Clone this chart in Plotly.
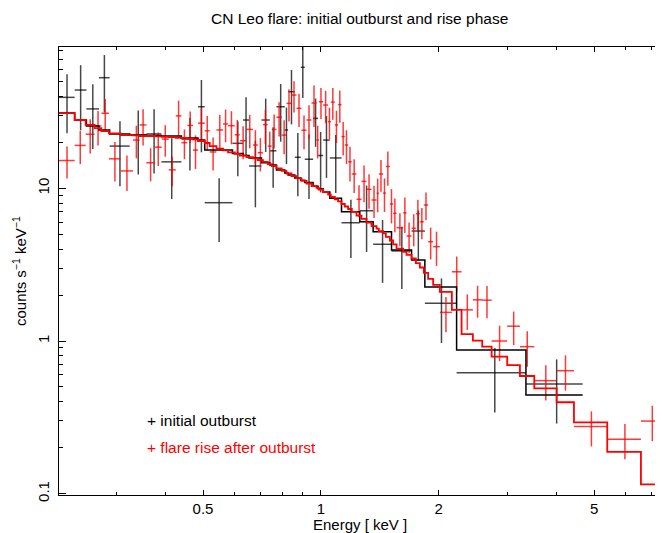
import numpy as np
import plotly.graph_objects as go

# ---------------- data ----------------
# initial outburst (black): bin edges [keV], rate, 1-sigma error, model
black_edges = [0.2142, 0.2349, 0.2517, 0.2710, 0.2886, 0.3247, 0.3583, 0.3914, 0.4403,
               0.4855, 0.5050, 0.5945, 0.6327, 0.6555, 0.7054, 0.7406, 0.7703, 0.8091,
               0.8250, 0.8581, 0.8889, 0.9101, 0.9557, 0.9842, 1.0137, 1.0544, 1.1296,
               1.2580, 1.3607, 1.5163, 1.7061, 1.845, 2.224, 3.345, 4.67]
black_rate = [39.4, 44.0, 33.1, 53.0, 18.9, 22.3, 22.7, 14.9, 21.0, 34.2, 8.05, 19.7,
              28.0, 14.0, 28.0, 17.6, 34.2, 24.1, 42.9, 15.96, 62.0, 15.5, 28.7, 16.4,
              20.7, 15.8, 5.95, 7.13, 4.30, 3.89, 5.25, 1.77, 0.620, 0.523]
black_err = [16.5, 20.0, 15.0, 21.6, 8.6, 10.0, 10.2, 6.4, 7.9, 17.0, 3.6, 7.7, 11.5,
             6.5, 10.7, 7.5, 14.0, 9.7, 16.7, 7.1, 23.0, 7.0, 10.0, 7.0, 9.0, 6.5,
             2.45, 3.3, 1.9, 1.7, 1.9, 0.8, 0.28, 0.235]
black_model = [31.1, 28.0, 25.6, 24.1, 22.7, 22.3, 22.2, 22.0, 21.35, 20.7, 17.8, 16.9,
               16.4, 15.8, 14.7, 14.2, 13.2, 12.6, 12.2, 11.7, 11.3, 10.9, 10.3, 9.95,
               9.45, 8.6, 7.03, 6.04, 5.20, 3.94, 3.39, 2.26, 0.873, 0.443]

# flare rise after outburst (red)
red_edges = [0.2142, 0.2349, 0.2506, 0.2642, 0.2749, 0.2874, 0.3079, 0.3311, 0.3444, 0.3583,
             0.3762, 0.3921, 0.4086, 0.4258, 0.4403, 0.4560, 0.4713, 0.4855, 0.5050, 0.5201,
             0.5410, 0.5626, 0.5794, 0.6027, 0.6207, 0.6455, 0.6711, 0.6899, 0.7117, 0.7318,
             0.7493, 0.7703, 0.7946, 0.8170, 0.8415, 0.8667, 0.8926, 0.9193, 0.9467, 0.9750,
             0.9883, 1.0137, 1.0440, 1.0606, 1.0859, 1.1071, 1.1296, 1.1519, 1.1745, 1.2003,
             1.2339, 1.2708, 1.3088, 1.3479, 1.3882, 1.4069, 1.4431, 1.4663, 1.5014, 1.5308,
             1.5618, 1.6237, 1.6566, 1.7061, 1.7498, 1.7914, 1.8340, 1.8810, 1.9372, 2.0151,
             2.1627, 2.2898, 2.4475, 2.5856, 2.7331, 2.9956, 3.2285, 3.5130, 4.0068, 4.4369,
             5.3977, 6.5812, 7.4937]
red_rate = [15.2, 19.1, 22.6, 25.6, 31.0, 15.6, 13.0, 20.7, 26.0, 14.7,
            18.6, 21.0, 13.2, 29.8, 19.9, 25.8, 17.8, 26.7, 23.8, 17.3,
            24.1, 26.4, 25.7, 22.4, 20.5, 24.3, 19.2, 17.1, 26.1, 18.9,
            24.3, 29.2, 22.3, 36.0, 40.8, 33.4, 24.0, 28.0, 36.2, 20.7,
            36.9, 35.1, 27.3, 36.7, 26.0, 35.3, 21.8, 19.2, 14.9, 12.4,
            8.47, 11.1, 9.85, 8.38, 9.27, 12.4, 9.30, 13.9, 7.89, 6.86,
            5.52, 6.90, 4.87, 5.47, 6.82, 6.04, 7.77, 4.47, 4.15, 1.54,
            2.84, 1.60, 1.86, 1.85, 1.00, 1.25, 0.918, 0.550, 0.639, 0.275,
            0.227, 0.299]
red_err = [3.6, 4.7, 5.7, 6.5, 7.5, 4.5, 3.4, 5.0, 6.9, 3.6,
           4.6, 4.9, 2.9, 7.7, 4.4, 6.0, 4.4, 6.6, 5.9, 4.2,
           6.1, 6.4, 6.3, 5.6, 5.0, 6.0, 4.8, 4.2, 6.6, 4.6,
           6.1, 7.4, 5.6, 8.6, 9.4, 8.2, 6.0, 7.0, 11.0, 5.0,
           8.5, 8.4, 6.4, 8.6, 6.2, 8.4, 5.4, 4.8, 3.8, 3.1,
           2.0, 3.0, 2.5, 2.0, 2.3, 2.9, 2.3, 3.5, 2.0, 1.7,
           1.35, 1.8, 1.1, 1.3, 1.6, 1.4, 1.6, 1.05, 1.05, 0.40,
           0.74, 0.42, 0.44, 0.44, 0.26, 0.31, 0.24, 0.143, 0.166, 0.071,
           0.059, 0.078]
red_model = [31.1, 28.0, 26.0, 24.8, 23.7, 22.9, 22.3, 22.2, 22.0, 22.0,
             21.85, 21.7, 21.6, 21.4, 21.35, 21.2, 20.9, 20.4, 19.8, 18.9,
             18.2, 17.7, 17.2, 16.8, 16.4, 16.0, 15.7, 15.3, 14.9, 14.4,
             14.0, 13.5, 13.0, 12.5, 12.0, 11.6, 11.2, 10.75, 10.35, 10.05,
             9.82, 9.46, 9.11, 8.77, 8.45, 8.20, 7.89, 7.60, 7.32, 7.00,
             6.63, 6.30, 5.97, 5.66, 5.45, 5.25, 5.06, 4.80, 4.55, 4.29,
             4.03, 3.83, 3.66, 3.47, 3.24, 3.03, 2.79, 2.55, 2.33, 2.10,
             1.60, 1.11, 1.005, 0.918, 0.789, 0.696, 0.590, 0.490, 0.397, 0.2935,
             0.188, 0.115]

x_tick_vals = [0.5, 1, 2, 5]
x_tick_text = ["0.5", "1", "2", "5"]
x_minor_vals = [0.3, 0.4, 0.6, 0.7, 0.8, 0.9, 3, 4, 6, 7]
y_tick_vals = [0.1, 1, 10]
y_tick_text = ["0.1", "1", "10"]
y_minor_vals = [0.2, 0.3, 0.4, 0.5, 0.6, 0.7, 0.8, 0.9,
                2, 3, 4, 5, 6, 7, 8, 9, 20, 30, 40, 50, 60, 70, 80]

title_text = "CN Leo flare: initial outburst and rise phase"
x_title = "Energy [ keV ]"
y_title = "counts s<sup>−1</sup> keV<sup>−1</sup>"
legend_black = "+ initial outburst"
legend_red = "+ flare rise after outburst"

FONT = "Liberation Sans, Arial, sans-serif"
FS = 15


def cross_trace(edges, rate, err, color):
    e = np.array(edges)
    lo, hi = e[:-1], e[1:]
    mid = (lo + hi) / 2
    return go.Scatter(
        x=mid, y=rate, mode="markers",
        marker=dict(size=1, color="rgba(0,0,0,0)"),
        error_x=dict(type="data", symmetric=False, array=hi - mid,
                     arrayminus=mid - lo, width=0, thickness=1.5, color=color),
        error_y=dict(type="data", array=err, width=0, thickness=1.5, color=color),
        showlegend=False, hoverinfo="skip")


def step_trace(edges, model, color, width):
    return go.Scatter(x=list(edges), y=list(model) + [model[-1]], mode="lines",
                      line=dict(shape="hv", color=color, width=width),
                      showlegend=False, hoverinfo="skip")


fig = go.Figure()
fig.add_trace(cross_trace(black_edges, black_rate, black_err, "rgba(0,0,0,0.72)"))
fig.add_trace(cross_trace(red_edges, red_rate, red_err, "rgba(255,0,0,0.78)"))
fig.add_trace(step_trace(black_edges, black_model, "black", 1.5))
fig.add_trace(step_trace(red_edges, red_model, "#ff0000", 1.8))

# page has an 8px body margin, so the figure is 8px smaller and shifted
W, H = 655, 525
L, R, T, B = 51, 1, 39, 38
# reference plot-area box (window pixels) used to place the texts
RL, RR, RT, RB = 59, 662, 47, 495
pw, ph = RR - RL, RB - RT


def px(xp):
    return (xp - RL) / pw


def py(yp):
    return (RB - yp) / ph


axis_common = dict(type="log", showline=True, linecolor="black", linewidth=1,
                   mirror="ticks", ticks="inside", tickcolor="black", tickwidth=1,
                   showgrid=False, zeroline=False,
                   tickfont=dict(family=FONT, size=FS, color="black"))

fig.update_layout(
    width=W, height=H,
    margin=dict(l=L, r=R, t=T, b=B, autoexpand=False),
    paper_bgcolor="white", plot_bgcolor="white",
    xaxis=dict(axis_common, range=[np.log10(0.2142), np.log10(7.45)],
               tickmode="array", tickvals=x_tick_vals, ticktext=x_tick_text,
               ticklen=5,
               minor=dict(ticks="inside", ticklen=3, tickcolor="black",
                          tickmode="array", tickvals=x_minor_vals)),
    yaxis=dict(axis_common, range=[-1.0085, 1.9253],
               tickmode="array", tickvals=y_tick_vals, ticktext=y_tick_text,
               ticklen=7, tickangle=-90, ticklabelstandoff=3,
               minor=dict(ticks="inside", ticklen=3.5, tickcolor="black",
                          tickmode="array", tickvals=y_minor_vals)),
    annotations=[
        dict(text=title_text, xref="paper", yref="paper", x=px(359), y=py(18),
             xanchor="center", yanchor="middle", showarrow=False,
             font=dict(family=FONT, size=FS + 0.5, color="black")),
        dict(text=x_title, xref="paper", yref="paper", x=px(360), y=py(524),
             xanchor="center", yanchor="middle", showarrow=False,
             font=dict(family=FONT, size=FS, color="black")),
        dict(text=y_title, xref="paper", yref="paper", x=px(19), y=0.5,
             xanchor="center", yanchor="middle", textangle=-90, showarrow=False,
             font=dict(family=FONT, size=FS, color="black")),
        dict(text=legend_black, xref="paper", yref="paper", x=px(145),
             y=py(420), xanchor="left", yanchor="middle", showarrow=False,
             font=dict(family=FONT, size=FS + 0.5, color="black")),
        dict(text=legend_red, xref="paper", yref="paper", x=px(145),
             y=py(447), xanchor="left", yanchor="middle", showarrow=False,
             font=dict(family=FONT, size=FS + 0.5, color="#ff0000")),
    ],
)

fig.write_html("out.html")
